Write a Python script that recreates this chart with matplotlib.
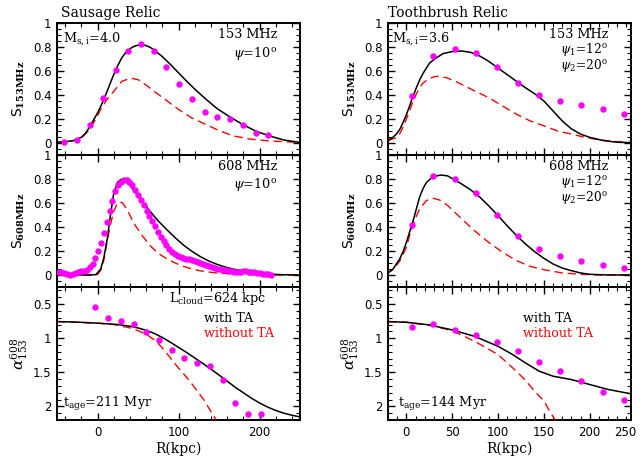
import matplotlib
matplotlib.use("Agg")
import matplotlib.pyplot as plt
from matplotlib.ticker import MultipleLocator

plt.rcParams['font.family'] = ['DejaVu Sans']
plt.rcParams['mathtext.fontset'] = 'dejavuserif'

# ---------------- Sausage relic ----------------
# 153 MHz
sl153_obs_x = [-41, -25, -9, 6.5, 22.4, 38, 54, 70, 85, 101, 117, 133, 148, 164, 180, 195.5, 211]
sl153_obs_y = [0.011, 0.027, 0.148, 0.371, 0.608, 0.77, 0.828, 0.764, 0.632, 0.492, 0.363, 0.258,
               0.214, 0.2, 0.151, 0.085, 0.066]
sl153_ta_x = [-50, -40, -30, -20, -15, -10, -5, 0, 5, 10, 15, 20, 25, 30, 35, 40, 45, 50, 55, 60,
              65, 70, 80, 90, 100, 110, 120, 133, 148, 164, 180, 195, 211, 230, 250]
sl153_ta_y = [0.005, 0.01, 0.02, 0.047, 0.08, 0.13, 0.19, 0.25, 0.32, 0.40, 0.485, 0.57, 0.645,
              0.71, 0.755, 0.785, 0.805, 0.815, 0.818, 0.812, 0.797, 0.775, 0.72, 0.655, 0.585,
              0.515, 0.45, 0.37, 0.285, 0.215, 0.152, 0.10, 0.062, 0.025, 0.005]
sl153_nota_x = [-50, -30, -20, -10, -3, 4, 12, 20, 30, 41, 50, 61, 70, 86, 100, 116, 133, 148, 167,
                188, 208, 229, 250]
sl153_nota_y = [0.005, 0.018, 0.04, 0.11, 0.19, 0.28, 0.365, 0.43, 0.514, 0.54, 0.528, 0.478,
                0.43, 0.35, 0.28, 0.21, 0.157, 0.11, 0.06, 0.033, 0.02, 0.011, 0.005]

# 608 MHz
sl608_obs_x = [-48, -44.5, -41, -37.5, -34, -30.5, -27, -23.5, -20, -16.5, -13, -9.5, -6, -2.5, 1,
               4.5, 8, 11.5, 15, 18.5, 22, 25.5, 29, 32.5, 36, 39.5, 43, 46.5, 50, 53.5, 57, 60.5,
               64, 67.5, 71, 74.5, 78, 81.5, 85, 88.5, 92, 95.5, 99, 102.5, 106, 109.5, 113, 116.5,
               120, 123.5, 127, 130.5, 134, 137.5, 141, 144.5, 148, 151.5, 155, 158.5, 162, 165.5,
               169, 172.5, 176, 179.5, 183, 186.5, 190, 193.5, 197, 200.5, 204, 207.5, 211, 214.5]
sl608_obs_y = [0.028, 0.022, 0.015, 0.008, 0.004, 0.008, 0.015, 0.022, 0.03, 0.036, 0.045, 0.065,
               0.09, 0.14, 0.2, 0.27, 0.35, 0.44, 0.53, 0.62, 0.70, 0.75, 0.775, 0.79, 0.79, 0.775,
               0.75, 0.71, 0.665, 0.625, 0.58, 0.535, 0.49, 0.45, 0.405, 0.36, 0.32, 0.285, 0.25,
               0.22, 0.195, 0.172, 0.158, 0.148, 0.142, 0.135, 0.13, 0.124, 0.118, 0.108, 0.1,
               0.09, 0.082, 0.074, 0.066, 0.06, 0.054, 0.048, 0.043, 0.038, 0.034, 0.03, 0.028,
               0.028, 0.029, 0.03, 0.03, 0.028, 0.024, 0.021, 0.018, 0.016, 0.012, 0.008, 0.005,
               0.003]
sl608_ta_x = [-50, -10, -2, 4, 8, 12, 16, 20, 24.5, 28.6, 31, 35, 40, 45, 50, 55, 60, 65, 75, 86,
              96, 106, 116, 126.5, 137, 147, 157, 167, 178, 188, 198, 208, 230, 250]
sl608_ta_y = [0.0, 0.0, 0.003, 0.05, 0.15, 0.3, 0.5, 0.68, 0.77, 0.795, 0.8, 0.785, 0.75, 0.705,
              0.66, 0.615, 0.57, 0.53, 0.45, 0.375, 0.31, 0.25, 0.2, 0.155, 0.118, 0.09, 0.068,
              0.05, 0.035, 0.024, 0.015, 0.008, 0.002, 0.0]
sl608_nota_x = [-50, -10, 0, 4, 8, 12, 16, 20, 24, 27, 31, 37, 45, 55, 65, 75, 86, 96, 106, 116,
                126, 137, 147, 167, 188, 208, 250]
sl608_nota_y = [0.0, 0.0, 0.003, 0.04, 0.13, 0.28, 0.42, 0.53, 0.59, 0.61, 0.6, 0.54, 0.43, 0.33,
                0.244, 0.18, 0.133, 0.1, 0.072, 0.052, 0.036, 0.025, 0.017, 0.008, 0.003, 0.0, 0.0]

# spectral index
slalpha_obs_x = [-2.9, 13, 28.6, 44.5, 60, 76, 91.8, 107.3, 123, 138.8, 154.7, 170, 186, 202]
slalpha_obs_y = [0.539, 0.709, 0.748, 0.796, 0.903, 1.029, 1.17, 1.29, 1.36, 1.41, 1.62, 1.947,
                 2.117, 2.107]
slalpha_ta_x = [-50, -25, 0, 25, 40, 50, 60, 70, 80, 90, 100, 110, 120, 130, 140, 150, 160, 170,
                180, 190, 200, 210, 220, 230, 240, 250]
slalpha_ta_y = [0.757, 0.765, 0.78, 0.80, 0.825, 0.85, 0.885, 0.93, 0.99, 1.06, 1.135, 1.21, 1.29,
                1.37, 1.455, 1.54, 1.63, 1.72, 1.80, 1.88, 1.95, 2.01, 2.06, 2.10, 2.13, 2.155]
slalpha_nota_x = [-50, 0, 20, 40, 50, 61, 72, 82, 98, 114, 131, 145, 150]
slalpha_nota_y = [0.757, 0.78, 0.80, 0.85, 0.89, 0.95, 1.04, 1.17, 1.41, 1.63, 1.9, 2.17, 2.26]

# ---------------- Toothbrush relic ----------------
tb_obs_x = [6.5, 29.4, 52.7, 75.6, 98.5, 121.7, 144.6, 167.9, 190.8, 214, 237]
tb153_obs_y = [0.393, 0.729, 0.784, 0.753, 0.63, 0.498, 0.396, 0.349, 0.316, 0.28, 0.242]
tb153_ta_x = [-20, -15, -10.9, -7, -3.6, 0, 3.6, 7, 10.9, 14.5, 18.2, 25.4, 30.9, 40, 50, 60, 70,
              80, 90, 100, 110, 120, 130, 140, 150, 160, 170, 180, 190, 200, 215, 230, 245]
tb153_ta_y = [0.022, 0.045, 0.074, 0.115, 0.17, 0.235, 0.31, 0.385, 0.46, 0.525, 0.58, 0.667,
              0.70, 0.745, 0.762, 0.767, 0.756, 0.725, 0.68, 0.624, 0.57, 0.514, 0.46, 0.41, 0.35,
              0.267, 0.184, 0.118, 0.074, 0.047, 0.02, 0.006, 0.003]
tb153_nota_x = [-20, -10.9, -7, -3.6, 0, 3.6, 7, 10.9, 14.5, 18.2, 25.4, 32.7, 43.6, 54.5, 69, 90,
                105, 120, 135, 150, 165, 180, 195, 210, 225, 245]
tb153_nota_y = [0.02, 0.045, 0.08, 0.13, 0.2, 0.27, 0.34, 0.41, 0.46, 0.50, 0.54, 0.556, 0.545,
                0.51, 0.455, 0.377, 0.308, 0.24, 0.184, 0.143, 0.1, 0.074, 0.047, 0.027, 0.014,
                0.005]

tb608_obs_y = [0.419, 0.828, 0.797, 0.683, 0.497, 0.328, 0.217, 0.156, 0.114, 0.083, 0.061]
tb608_ta_x = [-21.8, -14.5, -7.3, -3.6, 0, 3.6, 7.3, 10.9, 14.5, 18.2, 21.8, 29, 38, 45, 51, 60, 70,
              80, 90, 100, 110, 120, 130, 140, 150, 160, 170, 180, 190, 200, 220, 245]
tb608_ta_y = [0.008, 0.05, 0.133, 0.195, 0.27, 0.36, 0.45, 0.55, 0.65, 0.72, 0.77, 0.82, 0.833,
              0.826, 0.80, 0.76, 0.71, 0.65, 0.575, 0.494, 0.41, 0.33, 0.258, 0.194, 0.139, 0.092,
              0.058, 0.036, 0.017, 0.006, 0.0, 0.0]
tb608_nota_x = [-21.8, -14.5, -7.3, -3.6, 0, 3.6, 7.3, 10.9, 14.5, 21.8, 29, 36.3, 45, 51, 60, 72.7,
                90, 105, 120, 135, 150, 170, 190, 210, 245]
tb608_nota_y = [0.008, 0.045, 0.115, 0.17, 0.23, 0.33, 0.42, 0.49, 0.55, 0.62, 0.64, 0.625, 0.58,
                0.536, 0.47, 0.38, 0.27, 0.189, 0.12, 0.072, 0.044, 0.017, 0.006, 0.0, 0.0]

tbalpha_obs_y = [0.84, 0.796, 0.879, 0.956, 1.058, 1.184, 1.345, 1.485, 1.631, 1.79, 1.91]
tbalpha_ta_x = [-20, 0, 25, 50, 75, 100, 115, 130, 145, 160, 180, 200, 220, 245]
tbalpha_ta_y = [0.757, 0.767, 0.806, 0.879, 0.976, 1.12, 1.233, 1.364, 1.485, 1.558, 1.607, 1.68,
                1.752, 1.816]
tbalpha_nota_x = [-20, 0, 25, 50, 75, 100, 120, 130, 140, 150, 155, 165]
tbalpha_nota_y = [0.757, 0.767, 0.81, 0.89, 1.05, 1.24, 1.485, 1.62, 1.78, 1.92, 2.04, 2.26]

# ---------------- styling ----------------
MAG = '#ff00ff'
RED = '#ff0000'
SERIF = 'DejaVu Serif'
TICKFS = 8.5
TXTFS = 9.2

fig = plt.figure(figsize=(6.44, 4.61), dpi=100)
W = 243 / 644.0
lefts = [57 / 644.0, 388 / 644.0]
rows = [(23, 155), (155, 287), (287, 420)]

def mkax(col, row):
    t, b = rows[row]
    ax = fig.add_axes([lefts[col], (461 - b) / 461.0, W, (b - t) / 461.0])
    for s in ax.spines.values():
        s.set_linewidth(1.4)
    ax.tick_params(which='both', direction='in', top=True, right=True, labelsize=TICKFS, pad=4)
    ax.tick_params(which='major', length=5, width=1.0)
    ax.tick_params(which='minor', length=2.6, width=0.8)
    return ax

def draw_line(ax, x, y, red=False):
    if red:
        ax.plot(x, y, color=RED, lw=1.0, dashes=(6, 3.5), zorder=3)
    else:
        ax.plot(x, y, color='black', lw=1.1, zorder=3)

def draw_pts(ax, x, y, ms=4.6):
    ax.plot(x, y, 'o', color=MAG, ms=ms, mec='none', zorder=4)

def txt(ax, x, y, s, ha='left', color='black', fs=TXTFS):
    ax.text(x, y, s, transform=ax.transAxes, ha=ha, va='center', fontsize=fs,
            family=SERIF, color=color)

axes = [[mkax(c, r) for r in range(3)] for c in range(2)]

for c in range(2):
    xl = (-50, 250) if c == 0 else (-20, 245)
    for r in range(3):
        ax = axes[c][r]
        ax.set_xlim(*xl)
        if c == 0:
            ax.xaxis.set_major_locator(MultipleLocator(100))
            ax.xaxis.set_minor_locator(MultipleLocator(20))
        else:
            ax.xaxis.set_major_locator(MultipleLocator(50))
            ax.xaxis.set_minor_locator(MultipleLocator(10))
        if r < 2:
            ax.set_ylim(-0.1, 1.0)
            ax.yaxis.set_minor_locator(MultipleLocator(0.05))
            ax.set_yticks([0, 0.2, 0.4, 0.6, 0.8, 1.0])
            ax.set_yticklabels(['0', '0.2', '0.4', '0.6', '0.8', '1'])
            ax.tick_params(axis='x', labelbottom=False)
        else:
            ax.set_ylim(2.2, 0.25)
            ax.yaxis.set_minor_locator(MultipleLocator(0.1))
            ax.set_yticks([0.5, 1.0, 1.5, 2.0])
            ax.set_yticklabels(['0.5', '1', '1.5', '2'])
            ax.set_xlabel('R(kpc)', family=SERIF, fontsize=10, labelpad=2)

for c in range(2):
    axes[c][0].set_ylabel(r'$\mathsf{S}_{\mathbf{153MHz}}$', fontsize=10, labelpad=4)
    axes[c][1].set_ylabel(r'$\mathsf{S}_{\mathbf{608MHz}}$', fontsize=10, labelpad=4)
    axes[c][2].set_ylabel(r'$\alpha^{608}_{153}$', fontsize=11, labelpad=2)

# "250" label at the right end of the Toothbrush axis
axes[1][2].annotate('250', xy=(239, 0), xycoords=('data', 'axes fraction'), xytext=(0, -4),
                    textcoords='offset points', ha='center', va='top', fontsize=TICKFS)

# ---- Sausage plots
ax = axes[0][0]
draw_line(ax, sl153_nota_x, sl153_nota_y, red=True)
draw_line(ax, sl153_ta_x, sl153_ta_y)
draw_pts(ax, sl153_obs_x, sl153_obs_y)
ax.text(0.016, 1.025, 'Sausage Relic', transform=ax.transAxes, ha='left', va='bottom',
        fontsize=10, family=SERIF)
txt(ax, 0.025, 0.885, r'M$_{\mathrm{s,i}}$=4.0')
txt(ax, 0.905, 0.91, '153 MHz', ha='right')
txt(ax, 0.905, 0.77, r'$\psi$=10$^{\mathrm{o}}$', ha='right')

ax = axes[0][1]
draw_line(ax, sl608_nota_x, sl608_nota_y, red=True)
draw_line(ax, sl608_ta_x, sl608_ta_y)
draw_pts(ax, sl608_obs_x, sl608_obs_y)
txt(ax, 0.905, 0.91, '608 MHz', ha='right')
txt(ax, 0.905, 0.78, r'$\psi$=10$^{\mathrm{o}}$', ha='right')

ax = axes[0][2]
draw_line(ax, slalpha_nota_x, slalpha_nota_y, red=True)
draw_line(ax, slalpha_ta_x, slalpha_ta_y)
draw_pts(ax, slalpha_obs_x, slalpha_obs_y)
txt(ax, 0.46, 0.915, r'L$_{\mathrm{cloud}}$=624 kpc')
txt(ax, 0.605, 0.765, 'with TA')
txt(ax, 0.605, 0.65, 'without TA', color=RED)
txt(ax, 0.025, 0.12, r't$_{\mathrm{age}}$=211 Myr')

# ---- Toothbrush plots
ax = axes[1][0]
draw_line(ax, tb153_nota_x, tb153_nota_y, red=True)
draw_line(ax, tb153_ta_x, tb153_ta_y)
draw_pts(ax, tb_obs_x, tb153_obs_y)
ax.text(0.0, 1.025, 'Toothbrush Relic', transform=ax.transAxes, ha='left', va='bottom',
        fontsize=10, family=SERIF)
txt(ax, 0.015, 0.885, r'M$_{\mathrm{s,i}}$=3.6')
txt(ax, 0.905, 0.915, '153 MHz', ha='right')
txt(ax, 0.905, 0.80, r'$\psi_1$=12$^{\mathrm{o}}$', ha='right', fs=8.8)
txt(ax, 0.905, 0.675, r'$\psi_2$=20$^{\mathrm{o}}$', ha='right', fs=8.8)

ax = axes[1][1]
draw_line(ax, tb608_nota_x, tb608_nota_y, red=True)
draw_line(ax, tb608_ta_x, tb608_ta_y)
draw_pts(ax, tb_obs_x, tb608_obs_y)
txt(ax, 0.905, 0.915, '608 MHz', ha='right')
txt(ax, 0.905, 0.80, r'$\psi_1$=12$^{\mathrm{o}}$', ha='right', fs=8.8)
txt(ax, 0.905, 0.675, r'$\psi_2$=20$^{\mathrm{o}}$', ha='right', fs=8.8)

ax = axes[1][2]
draw_line(ax, tbalpha_nota_x, tbalpha_nota_y, red=True)
draw_line(ax, tbalpha_ta_x, tbalpha_ta_y)
draw_pts(ax, tb_obs_x, tbalpha_obs_y)
txt(ax, 0.555, 0.765, 'with TA')
txt(ax, 0.555, 0.65, 'without TA', color=RED)
txt(ax, 0.04, 0.12, r't$_{\mathrm{age}}$=144 Myr')

fig.savefig('out.png', dpi=100)
